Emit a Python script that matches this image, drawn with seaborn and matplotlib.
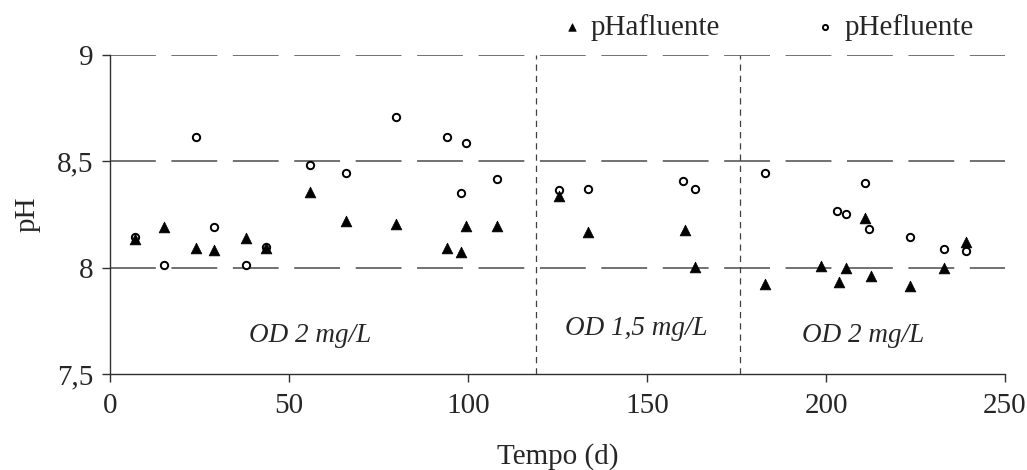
import numpy as np
import pandas as pd
import matplotlib
matplotlib.use("Agg")
import matplotlib.pyplot as plt
import seaborn as sns

# ---- data ----
dias_afl = [7, 15, 24, 29, 38, 43.5, 56, 66, 80, 94, 98, 99.5, 108,
            125.5, 133.5, 160.5, 163.5,
            183, 198.5, 203.5, 205.5, 211, 212.5, 223.5, 233, 239]
ph_afl = [8.135, 8.19, 8.093, 8.083, 8.141, 8.091, 8.357, 8.22, 8.205, 8.093, 8.074, 8.197, 8.197,
          8.337, 8.166, 8.177, 8.005,
          7.923, 8.008, 7.933, 7.999, 8.235, 7.961, 7.914, 7.999, 8.122]

dias_efl = [7, 15, 24, 29, 38, 43.5, 56, 66, 80, 94, 98, 99.5, 108,
            125.5, 133.5, 160, 163.5,
            183, 203, 205.5, 211, 212, 223.5, 233, 239]
ph_efl = [8.146, 8.014, 8.616, 8.193, 8.014, 8.096, 8.484, 8.446, 8.71, 8.616, 8.352, 8.587, 8.418,
          8.365, 8.371, 8.409, 8.371,
          8.446, 8.268, 8.251, 8.40, 8.183, 8.146, 8.09, 8.08]

fases = [119, 176]
fase_labels = ["OD 2 mg/L", "OD 1,5 mg/L", "OD 2 mg/L"]
fase_label_x = [56, 147, 210.5]
fase_label_y = [7.68, 7.715, 7.68]

y_ticks = [7.5, 8.0, 8.5, 9.0]
y_ticklabels = ["7,5", "8", "8,5", "9"]
x_ticks = [0, 50, 100, 150, 200, 250]

# ---- style ----
sns.set_style("white")
plt.rcParams['font.family'] = ['Liberation Serif', 'DejaVu Serif']
plt.rcParams['font.size'] = 21

fig = plt.figure(figsize=(10.27, 4.70), dpi=100)
ax = fig.add_axes([0.1071, 0.2043, 0.8715, 0.6787])

# gridlines
for yv in [8.0, 8.5, 9.0]:
    ax.axhline(yv, color="#4a4a4a", lw=1.1, dashes=(30, 10.2), zorder=1)

# phase separators
for xv in fases:
    ax.axvline(xv, color="#404040", lw=0.9, dashes=(5, 4), zorder=1)

df_a = pd.DataFrame({"dia": dias_afl, "ph": ph_afl})
df_e = pd.DataFrame({"dia": dias_efl, "ph": ph_efl})

sns.scatterplot(data=df_e, x="dia", y="ph", ax=ax, marker="o", s=28,
                facecolor="white", edgecolor="black", linewidth=1.4,
                label="pHefluente", zorder=3)
sns.scatterplot(data=df_a, x="dia", y="ph", ax=ax, marker="^", s=60,
                color="black", edgecolor="black", linewidth=0.5,
                label="pHafluente", zorder=4)

for t, xv, yv in zip(fase_labels, fase_label_x, fase_label_y):
    ax.text(xv, yv, t, ha="center", va="center", style="italic", fontsize=19.5)

ax.set_xlim(0, 250)
ax.set_ylim(7.5, 9.0)
ax.set_xticks(x_ticks)
ax.set_xticklabels([str(v) for v in x_ticks])
ax.set_yticks(y_ticks)
ax.set_yticklabels(y_ticklabels)
ax.set_xlabel("Tempo (d)", fontsize=21, labelpad=17)
ax.set_ylabel("pH", fontsize=21, labelpad=12)

for s in ["top", "right"]:
    ax.spines[s].set_visible(False)
for s in ["left", "bottom"]:
    ax.spines[s].set_color("#303030")
    ax.spines[s].set_linewidth(1.0)

ax.tick_params(axis="both", direction="out", length=6, width=1.0, color="#303030",
               labelsize=21, bottom=True, left=True)
ax.tick_params(axis="x", pad=8)
ax.tick_params(axis="y", pad=6)

handles, labels = ax.get_legend_handles_labels()
order = [labels.index("pHafluente"), labels.index("pHefluente")]
leg = ax.legend([handles[i] for i in order], [labels[i] for i in order],
                loc="center left", bbox_to_anchor=(0.5, 1.087), ncol=2,
                frameon=False, fontsize=21, handletextpad=0.15,
                columnspacing=3.1, markerscale=0.7, handlelength=1.0,
                borderaxespad=0, borderpad=0)

fig.savefig("out.png", dpi=100)
